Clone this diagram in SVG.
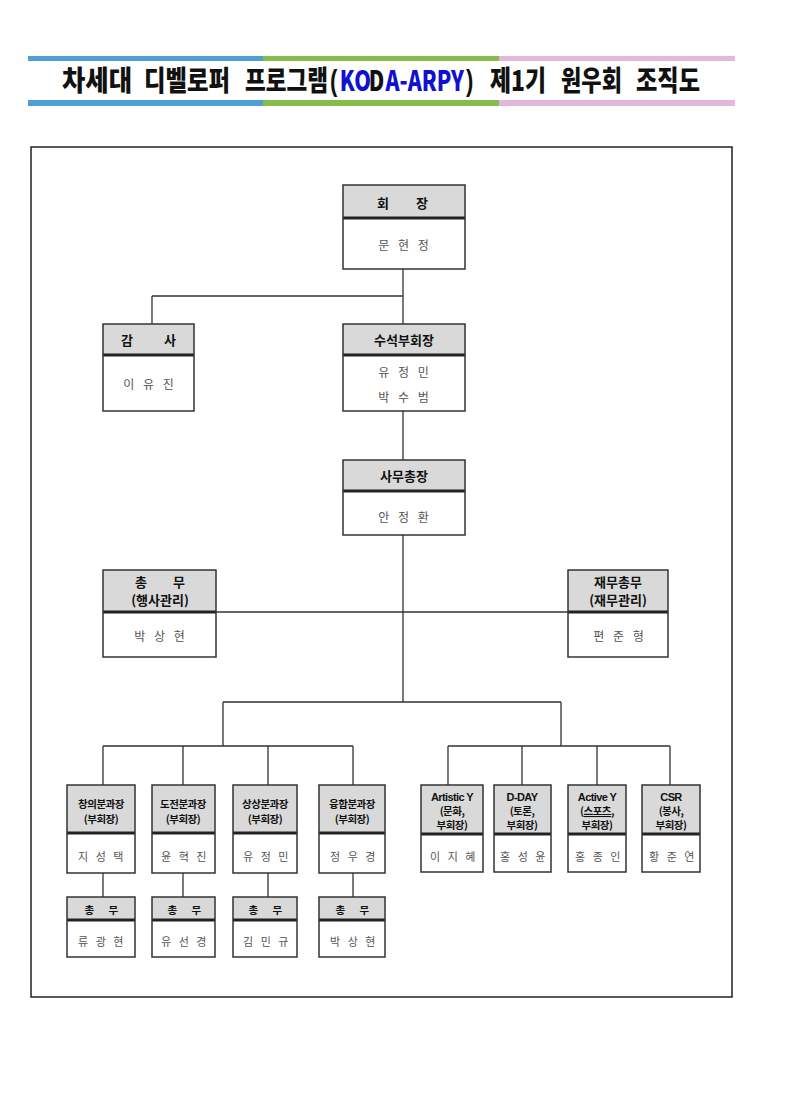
<svg xmlns="http://www.w3.org/2000/svg" width="795" height="1120" viewBox="0 0 795 1120">
<style>
.hd{fill:#d9d9d9}
.bx{fill:none;stroke:#333;stroke-width:1.5}
.dv{stroke:#222;stroke-width:3}
.c{fill:none;stroke:#333;stroke-width:1.3}
.h{font-family:"Noto Sans CJK KR",sans-serif;font-weight:bold;font-size:13px;fill:#111;text-anchor:middle}
.hs{font-family:"Noto Sans CJK KR",sans-serif;font-weight:bold;font-size:10.5px;fill:#111;text-anchor:middle;letter-spacing:-0.5px}
.hl{font-family:"Liberation Sans","Noto Sans CJK KR",sans-serif;font-weight:bold;font-size:11px;fill:#111;text-anchor:middle;letter-spacing:-0.6px}
.n{font-family:"Noto Sans CJK KR",sans-serif;font-size:12px;fill:#555;text-anchor:middle;letter-spacing:3px}
.ns{font-family:"Noto Sans CJK KR",sans-serif;font-size:11px;fill:#555;text-anchor:middle;letter-spacing:2.5px}
.t{font-family:"Noto Sans CJK KR",sans-serif;font-weight:900;font-size:28px;fill:#111}
.p{font-family:"Liberation Sans",sans-serif;font-weight:bold;font-size:29px;fill:#111}
.tb{fill:#1010d0}
</style>
<rect x="0" y="0" width="795" height="1120" fill="#fff"/>
<g id="title">
<rect x="28" y="56" width="235" height="5" fill="#4f9fd4"/>
<rect x="263" y="56" width="236" height="5" fill="#86bd4a"/>
<rect x="499" y="56" width="236" height="5" fill="#e2b7d9"/>
<rect x="28" y="100" width="235" height="6" fill="#4f9fd4"/>
<rect x="263" y="100" width="236" height="6" fill="#86bd4a"/>
<rect x="499" y="100" width="236" height="6" fill="#e2b7d9"/>
<text class="t" x="62" y="91" textLength="70" lengthAdjust="spacingAndGlyphs">차세대</text>
<text class="t" x="144" y="91" textLength="86" lengthAdjust="spacingAndGlyphs">디벨로퍼</text>
<text class="t" x="245" y="91" textLength="83" lengthAdjust="spacingAndGlyphs">프로그램</text>
<g transform="translate(330,91) scale(0.76,1)">
<text class="p" x="0" y="0">(</text>
<text class="t tb" x="13" y="0">KO</text>
<text class="t" x="51" y="0" fill="#e01010">D</text>
<text class="t tb" x="73" y="0">A-ARPY</text>
<text class="p" x="179" y="0">)</text>
</g>
<text class="t" x="490" y="91" textLength="56" lengthAdjust="spacingAndGlyphs">제1기</text>
<text class="t" x="561" y="91" textLength="61" lengthAdjust="spacingAndGlyphs">원우회</text>
<text class="t" x="636" y="91" textLength="64" lengthAdjust="spacingAndGlyphs">조직도</text>
</g>
<rect x="31" y="147" width="701" height="850" fill="none" stroke="#222" stroke-width="1.5"/>
<g id="connectors">
<path class="c" d="M403 269V324M152 296H403M152 296V324M403 411V460M403 535V702M216 612H568M223 702H561M223 702V746M561 702V746M103 746H353M103 746V785M183 746V785M268 746V785M353 746V785M103 873V897M183 873V897M268 873V897M353 873V897M448 746H670M448 746V785M522 746V785M597 746V785M670 746V785"/>
</g>
<g id="president">
<rect class="hd" x="343" y="185" width="122" height="33"/><line class="dv" x1="343" y1="218" x2="465" y2="218"/><rect class="bx" x="343" y="185" width="122" height="84"/>
<text class="h" y="208"><tspan x="383">회</tspan><tspan x="422">장</tspan></text>
<text class="n" x="405" y="250">문 현 정</text>
</g>
<g id="auditor">
<rect class="hd" x="103" y="324" width="91" height="31"/><line class="dv" x1="103" y1="355" x2="194" y2="355"/><rect class="bx" x="103" y="324" width="91" height="87"/>
<text class="h" y="345"><tspan x="127">감</tspan><tspan x="170">사</tspan></text>
<text class="n" x="150" y="389">이 유 진</text>
</g>
<g id="senior-vp">
<rect class="hd" x="343" y="324" width="122" height="31"/><line class="dv" x1="343" y1="355" x2="465" y2="355"/><rect class="bx" x="343" y="324" width="122" height="87"/>
<text class="h" x="404" y="345">수석부회장</text>
<text class="n" x="405" y="377">유 정 민</text>
<text class="n" x="405" y="402">박 수 범</text>
</g>
<g id="secretary-general">
<rect class="hd" x="343" y="460" width="122" height="31"/><line class="dv" x1="343" y1="491" x2="465" y2="491"/><rect class="bx" x="343" y="460" width="122" height="75"/>
<text class="h" x="404" y="481">사무총장</text>
<text class="n" x="405" y="522">안 정 환</text>
</g>
<g id="general-affairs">
<rect class="hd" x="103" y="570" width="113" height="42"/><line class="dv" x1="103" y1="612" x2="216" y2="612"/><rect class="bx" x="103" y="570" width="113" height="87"/>
<text class="h" y="587"><tspan x="141">총</tspan><tspan x="179">무</tspan></text>
<text class="h" x="160" y="605">(행사관리)</text>
<text class="n" x="161" y="641">박 상 현</text>
</g>
<g id="finance">
<rect class="hd" x="568" y="570" width="100" height="42"/><line class="dv" x1="568" y1="612" x2="668" y2="612"/><rect class="bx" x="568" y="570" width="100" height="87"/>
<text class="h" x="618" y="587">재무총무</text>
<text class="h" x="618" y="605">(재무관리)</text>
<text class="n" x="620" y="641">편 준 형</text>
</g>
<g id="div1">
<rect class="hd" x="67" y="785" width="68" height="48"/><line class="dv" x1="67" y1="833" x2="135" y2="833"/><rect class="bx" x="67" y="785" width="68" height="88"/>
<text class="hs" x="101" y="808">창의분과장</text><text class="hs" x="101" y="823">(부회장)</text>
<text class="ns" x="102" y="861">지 성 택</text>
</g>
<g id="div2">
<rect class="hd" x="152" y="785" width="63" height="48"/><line class="dv" x1="152" y1="833" x2="215" y2="833"/><rect class="bx" x="152" y="785" width="63" height="88"/>
<text class="hs" x="183" y="808">도전분과장</text><text class="hs" x="183" y="823">(부회장)</text>
<text class="ns" x="185" y="861">윤 혁 진</text>
</g>
<g id="div3">
<rect class="hd" x="233" y="785" width="64" height="48"/><line class="dv" x1="233" y1="833" x2="297" y2="833"/><rect class="bx" x="233" y="785" width="64" height="88"/>
<text class="hs" x="265" y="808">상상분과장</text><text class="hs" x="265" y="823">(부회장)</text>
<text class="ns" x="267" y="861">유 정 민</text>
</g>
<g id="div4">
<rect class="hd" x="319" y="785" width="66" height="48"/><line class="dv" x1="319" y1="833" x2="385" y2="833"/><rect class="bx" x="319" y="785" width="66" height="88"/>
<text class="hs" x="352" y="808">융합분과장</text><text class="hs" x="352" y="823">(부회장)</text>
<text class="ns" x="354" y="861">정 우 경</text>
</g>
<g id="div1-ga">
<rect class="hd" x="67" y="897" width="68" height="23"/><line class="dv" x1="67" y1="920" x2="135" y2="920"/><rect class="bx" x="67" y="897" width="68" height="60"/>
<text class="hs" y="914"><tspan x="89">총</tspan><tspan x="113">무</tspan></text>
<text class="ns" x="102" y="946">류 광 현</text>
</g>
<g id="div2-ga">
<rect class="hd" x="152" y="897" width="63" height="23"/><line class="dv" x1="152" y1="920" x2="215" y2="920"/><rect class="bx" x="152" y="897" width="63" height="60"/>
<text class="hs" y="914"><tspan x="172">총</tspan><tspan x="196">무</tspan></text>
<text class="ns" x="185" y="946">유 선 경</text>
</g>
<g id="div3-ga">
<rect class="hd" x="233" y="897" width="64" height="23"/><line class="dv" x1="233" y1="920" x2="297" y2="920"/><rect class="bx" x="233" y="897" width="64" height="60"/>
<text class="hs" y="914"><tspan x="253">총</tspan><tspan x="277">무</tspan></text>
<text class="ns" x="267" y="946">김 민 규</text>
</g>
<g id="div4-ga">
<rect class="hd" x="319" y="897" width="66" height="23"/><line class="dv" x1="319" y1="920" x2="385" y2="920"/><rect class="bx" x="319" y="897" width="66" height="60"/>
<text class="hs" y="914"><tspan x="340">총</tspan><tspan x="364">무</tspan></text>
<text class="ns" x="354" y="946">박 상 현</text>
</g>
<g id="artistic-y">
<rect class="hd" x="421" y="785" width="62" height="49"/><line class="dv" x1="421" y1="834" x2="483" y2="834"/><rect class="bx" x="421" y="785" width="62" height="87"/>
<text class="hl" x="452" y="801">Artistic Y</text><text class="hs" x="452" y="815">(문화,</text><text class="hs" x="452" y="829">부회장)</text>
<text class="ns" x="454" y="861">이 지 혜</text>
</g>
<g id="d-day">
<rect class="hd" x="494" y="785" width="57" height="49"/><line class="dv" x1="494" y1="834" x2="551" y2="834"/><rect class="bx" x="494" y="785" width="57" height="87"/>
<text class="hl" x="522" y="801">D-DAY</text><text class="hs" x="522" y="815">(토론,</text><text class="hs" x="522" y="829">부회장)</text>
<text class="ns" x="524" y="861">홍 성 윤</text>
</g>
<g id="active-y">
<rect class="hd" x="568" y="785" width="58" height="49"/><line class="dv" x1="568" y1="834" x2="626" y2="834"/><rect class="bx" x="568" y="785" width="58" height="87"/>
<text class="hl" x="597" y="801">Active Y</text><text class="hs" x="597" y="815">(<tspan text-decoration="underline">스포츠,</tspan></text><text class="hs" x="597" y="829">부회장)</text>
<text class="ns" x="599" y="861">홍 종 인</text>
</g>
<g id="csr">
<rect class="hd" x="642" y="785" width="58" height="49"/><line class="dv" x1="642" y1="834" x2="700" y2="834"/><rect class="bx" x="642" y="785" width="58" height="87"/>
<text class="hl" x="671" y="801">CSR</text><text class="hs" x="671" y="815">(봉사,</text><text class="hs" x="671" y="829">부회장)</text>
<text class="ns" x="673" y="861">황 준 연</text>
</g>
</svg>
